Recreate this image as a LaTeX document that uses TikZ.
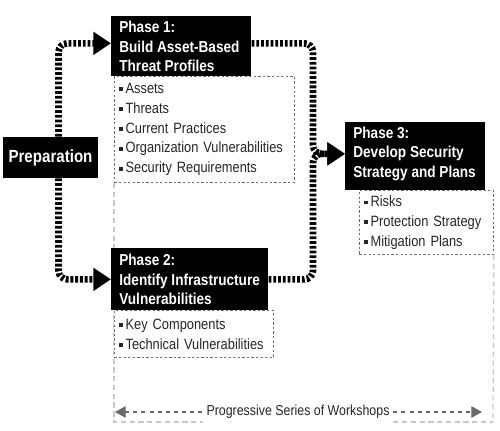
\documentclass[tikz,border=0pt]{standalone}
\usepackage{fontspec}
\setmainfont[FakeStretch=0.86]{Liberation Sans}
\usetikzlibrary{arrows.meta, positioning, calc}
\definecolor{PhaseBlack}{HTML}{000000}
\definecolor{ListGray}{HTML}{6A6A6A}
\definecolor{FrameGray}{HTML}{C8C8C8}
\definecolor{TextGray}{HTML}{262626}
\newcommand{\blt}{\rule[0.25ex]{2.2pt}{2.2pt}\hspace{1.3pt}}

\begin{document}
\begin{tikzpicture}[x=0.02cm, y=-0.02cm,
    phasebox/.style={fill=PhaseBlack, anchor=north west, inner sep=0pt},
    phasetext/.style={text=white, anchor=west, align=left, inner sep=0pt,
      font=\fontsize{9pt}{11.3pt}\selectfont\bfseries},
    listbox/.style={draw=ListGray, dash pattern=on 1.3pt off 1.3pt, line width=0.5pt,
      fill=white, text=TextGray, anchor=north west, align=left,
      inner xsep=0.1cm, inner ysep=0pt, font=\fontsize{8.5pt}{11.3pt}\selectfont},
    flow/.style={line width=3.8pt, dash pattern=on 1.6pt off 1.1pt, rounded corners=5pt,
      -{Triangle[length=10pt, width=12.5pt]}},
    frame/.style={draw=FrameGray, line width=0.7pt, dash pattern=on 3pt off 2pt},
    wsline/.style={draw=ListGray, line width=0.6pt, dash pattern=on 2.3pt off 2.3pt}]
    \fill[white] (0,0) rectangle (500,430);
    \useasboundingbox (0,0) rectangle (500,430);

    % Progressive frame behind the phases
    \coordinate (frameSW) at (114,422);
    \coordinate (frameSE) at (493,422);

    % Preparation
    \node[phasebox, anchor=center, text=white, minimum width=1.9cm, minimum height=0.82cm,
      font=\fontsize{10pt}{12pt}\selectfont\bfseries] (prep) at (50.5,157.5) {Preparation};

    % Phase 1 box and its list
    \node[phasebox, minimum width=2.8cm, minimum height=1.2cm] (phaseone) at (111,16) {};
    \node[phasetext] (phaseonetext) at ([xshift=0.16cm]phaseone.west)
      {Phase 1:\\Build Asset-Based\\Threat Profiles};
    \node[listbox, minimum width=3.6cm, minimum height=2.12cm, text width=3.4cm] (itemsone) at (114,76)
      {\blt Assets\\\blt Threats\\\blt Current Practices\\\blt Organization Vulnerabilities\\\blt Security Requirements};

    \draw[frame] (itemsone.south west) -- (frameSW) -- (frameSE);

    % Phase 2 box and its list
    \node[phasebox, minimum width=3.14cm, minimum height=1.24cm] (phasetwo) at (111,248) {};
    \node[phasetext] (phasetwotext) at ([xshift=0.16cm]phasetwo.west)
      {Phase 2:\\Identify Infrastructure\\Vulnerabilities};
    \node[listbox, minimum width=3.18cm, minimum height=0.94cm, text width=2.98cm] (itemstwo) at (114,310)
      {\blt Key Components\\\blt Technical Vulnerabilities};

    % Phase 3 box and its list
    \node[phasebox, minimum width=2.8cm, minimum height=1.36cm] (phasethree) at (345,122) {};
    \node[phasetext] (phasethreetext) at ([xshift=0.16cm, yshift=0.05cm]phasethree.west)
      {Phase 3:\\Develop Security\\Strategy and Plans};
    \node[listbox, minimum width=2.68cm, minimum height=1.28cm, text width=2.48cm] (itemsthree) at (359,190)
      {\blt Risks\\\blt Protection Strategy\\\blt Mitigation Plans};

    \draw[frame] (itemsthree.south east) -- (frameSE);

    % Thick flow arrows
    \coordinate (joint) at ([xshift=-0.64cm, yshift=0.05cm]phasethree.west);
    \draw[flow] ([xshift=0.16cm]prep.north) |- ([yshift=0.06cm]phaseone.west);
    \draw[flow] ([xshift=0.16cm]prep.south) |- (phasetwo.west);
    \draw[flow] ([yshift=0.06cm]phaseone.east) -| (joint) -- ([yshift=0.05cm]phasethree.west);
    \draw[flow] (phasetwo.east) -| (joint) -- ([yshift=0.05cm]phasethree.west);

    % Workshops arrow
    \node[fill=white, inner xsep=2pt, text=TextGray, font=\fontsize{8.2pt}{10pt}\selectfont] (workshops) at (298,412)
      {Progressive Series of Workshops};
    \coordinate (wsleft) at (115,412);
    \coordinate (wsright) at (482,412);
    \draw[wsline, {Triangle[length=6pt, width=6.5pt]}-] (wsleft) -- (workshops.west);
    \draw[wsline, -{Triangle[length=6pt, width=6.5pt]}] (workshops.east) -- (wsright);
\end{tikzpicture}
\end{document}
